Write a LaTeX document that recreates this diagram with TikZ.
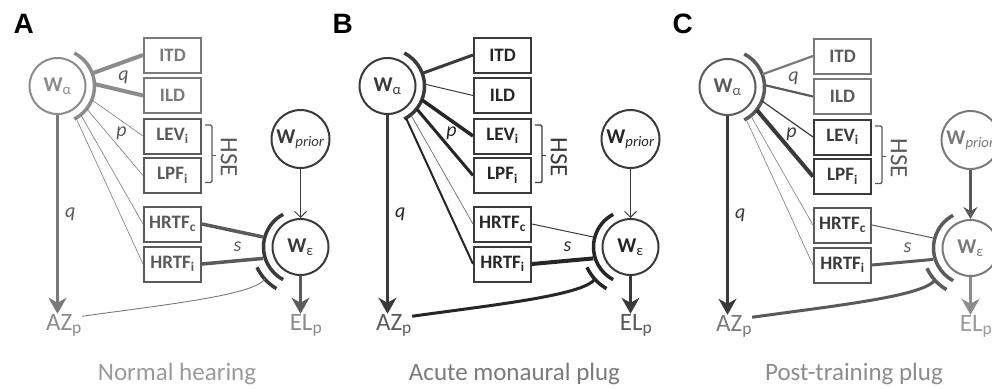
\documentclass[tikz,border=0pt]{standalone}
\usepackage{fontspec}
\setmainfont{Carlito}
\newfontfamily\panelfont{Liberation Sans}
\usepackage{tikz}
\usetikzlibrary{arrows.meta, calc}
\definecolor{faintgray}{HTML}{8C8C8C}
\definecolor{softgray}{HTML}{7A7A7A}
\definecolor{midgray}{HTML}{5A5A5A}
\definecolor{deepgray}{HTML}{3A3A3A}
\definecolor{inkgray}{HTML}{262626}
\definecolor{capgray}{HTML}{9A9A9A}
\tikzset{
  >={Stealth[length=16pt, width=18pt, inset=5pt]},
  every node/.style={font=\fontsize{20}{22}\selectfont},
  wnode/.style={
    circle, draw, line width=2pt, minimum size=56pt, inner sep=0pt,
    font=\fontsize{21}{22}\selectfont\bfseries
  },
  cuebox/.style={
    rectangle, draw, line width=2pt, minimum width=57pt, minimum height=35pt,
    inner sep=0pt, font=\fontsize{19}{20}\selectfont\bfseries
  },
  outlabel/.style={inner sep=0pt, anchor=base, font=\fontsize{25}{26}\selectfont},
  caption/.style={anchor=base, font=\fontsize{25}{26}\selectfont},
  weightlabel/.style={font=\fontsize{20}{22}\selectfont\itshape},
  gate/.style={line width=3.5pt},
  outarrow/.style={->, line width=2.5pt},
  priorarrow/.style={-{Straight Barb[length=6pt, width=12pt]}, line width=1pt},
  hsebrace/.style={line width=1.4pt, rounded corners=1.5pt},
  hselabel/.style={rotate=-90, font=\fontsize{25}{26}\selectfont},
  panellabel/.style={anchor=base west, font=\panelfont\fontsize{28}{30}\selectfont\bfseries}
}

\begin{document}
\begin{tikzpicture}[x=1pt, y=1pt]
\useasboundingbox (0,0) rectangle (992,-388);
\clip (0,0) rectangle (992,-388);

% ── A: normal hearing ────────────────────────────────────────────────────────
\node[panellabel] at (10,-33.3) {A};
\node[wnode, draw=faintgray, text=faintgray] (waA) at (57.5,-86) {W\textsubscript{\mdseries α}};
\node[cuebox, draw=softgray, text=softgray] (itdA) at (172.5,-55) {ITD};
\node[cuebox, draw=softgray, text=softgray] (ildA) at (172.5,-95.5) {ILD};
\node[cuebox, draw=midgray, text=midgray] (levA) at (172.5,-136) {LEV\textsubscript{i}};
\node[cuebox, draw=midgray, text=midgray] (lpfA) at (172.5,-175.5) {LPF\textsubscript{i}};
\node[cuebox, draw=midgray, text=midgray] (hrtfcA) at (172.5,-224) {HRTF\textsubscript{c}};
\node[cuebox, draw=midgray, text=midgray] (hrtfiA) at (172.5,-264) {HRTF\textsubscript{i}};
\node[wnode, minimum size=58pt, draw=deepgray, text=deepgray] (wpA) at (300.5,-139) {W\textsubscript{\mdseries\itshape prior}};
\node[wnode, draw=deepgray, text=deepgray] (weA) at (300.5,-247) {W\textsubscript{\mdseries ε}};
\node[outlabel, text=faintgray] (azA) at (64,-330) {AZ\textsubscript{p}};
\node[outlabel, text=faintgray] (elA) at (306,-330) {EL\textsubscript{p}};

\draw[gate, faintgray] (waA.center) ++(-63:37) arc[start angle=-63, end angle=63, radius=37];
\draw[faintgray, line width=4pt] (waA.center) ++(20:37) -- (itdA.west);
\draw[faintgray, line width=4pt] (waA.center) ++(3:37) -- (ildA.west);
\draw[softgray, line width=0.6pt] (waA.center) ++(-22:37) -- (levA.west);
\draw[softgray, line width=0.6pt] (waA.center) ++(-38:37) -- (lpfA.west);
\draw[softgray, line width=0.6pt] (waA.center) ++(-51:37) -- (hrtfcA.west);
\draw[softgray, line width=0.6pt] (waA.center) ++(-60:37) -- (hrtfiA.west);
\node[weightlabel, midgray] at ($(waA)+(66,9)$) {q};
\node[weightlabel, midgray] at ($(waA)+(64,-47)$) {p};

\draw[hsebrace, midgray] ([xshift=3pt, yshift=11pt]levA.east) -- ++(7,0) |- ([xshift=3pt, yshift=-7pt]lpfA.east);
\draw[hsebrace, midgray] ($(levA.east)!0.5!(lpfA.east)+(10,0)$) -- ++(4,0);
\node[hselabel, midgray] at ($(levA.east)!0.5!(lpfA.east)+(27,-1.5)$) {HSE};

\draw[gate, deepgray] (weA.center) ++(118:37) arc[start angle=118, end angle=242, radius=37];
\draw[gate, deepgray] (weA.center) ++(205:48) arc[start angle=205, end angle=240, radius=48];
\draw[midgray, line width=3.5pt] (hrtfcA.east) -- ($(weA)+(165:39)$);
\draw[midgray, line width=3.5pt] (hrtfiA.east) -- ($(weA)+(197:39)$);
\node[weightlabel, midgray] at ($(weA)+(-63,0)$) {s};

\draw[priorarrow, deepgray] (wpA.south) -- (weA.north);
\draw[outarrow, softgray] (waA.south) -- (waA.south |- azA.north)
  node[midway, right=3pt, weightlabel, midgray] {q};
\draw[outarrow, midgray] (weA.south) -- (weA.south |- elA.north);
\draw[softgray, line width=0.9pt] (weA.center) ++(222:48)
  .. controls +(235:20) and +(8:80) .. ([yshift=9pt]azA.east);
\node[caption, capgray] at (177,-380) {Normal hearing};

% ── B: acute monaural plug ───────────────────────────────────────────────────
\begin{scope}[shift={(330,0)}]
\node[panellabel] at (-1,-33.3) {B};
\node[wnode, draw=deepgray, text=deepgray] (waB) at (57.5,-86) {W\textsubscript{\mdseries α}};
\node[cuebox, draw=deepgray, text=inkgray] (itdB) at (172.5,-55) {ITD};
\node[cuebox, draw=deepgray, text=inkgray] (ildB) at (172.5,-95.5) {ILD};
\node[cuebox, draw=deepgray, text=inkgray] (levB) at (172.5,-136) {LEV\textsubscript{i}};
\node[cuebox, draw=deepgray, text=inkgray] (lpfB) at (172.5,-175.5) {LPF\textsubscript{i}};
\node[cuebox, draw=deepgray, text=inkgray] (hrtfcB) at (172.5,-224) {HRTF\textsubscript{c}};
\node[cuebox, draw=deepgray, text=inkgray] (hrtfiB) at (172.5,-264) {HRTF\textsubscript{i}};
\node[wnode, minimum size=58pt, draw=deepgray, text=inkgray] (wpB) at (300.5,-139) {W\textsubscript{\mdseries\itshape prior}};
\node[wnode, draw=deepgray, text=inkgray] (weB) at (300.5,-247) {W\textsubscript{\mdseries ε}};
\node[outlabel, text=midgray] (azB) at (64,-330) {AZ\textsubscript{p}};
\node[outlabel, text=midgray] (elB) at (306,-330) {EL\textsubscript{p}};
\end{scope}

\draw[gate, deepgray] (waB.center) ++(-63:37) arc[start angle=-63, end angle=63, radius=37];
\draw[deepgray, line width=3pt] (waB.center) ++(20:37) -- (itdB.west);
\draw[deepgray, line width=1pt] (waB.center) ++(3:37) -- (ildB.west);
\draw[inkgray, line width=3.5pt] (waB.center) ++(-22:37) -- (levB.west);
\draw[inkgray, line width=3pt] (waB.center) ++(-38:37) -- (lpfB.west);
\draw[midgray, line width=0.6pt] (waB.center) ++(-51:37) -- (hrtfcB.west);
\draw[inkgray, line width=2pt] (waB.center) ++(-60:37) -- (hrtfiB.west);
\node[weightlabel, inkgray] at ($(waB)+(64,-47)$) {p};

\draw[hsebrace, deepgray] ([xshift=3pt, yshift=11pt]levB.east) -- ++(7,0) |- ([xshift=3pt, yshift=-7pt]lpfB.east);
\draw[hsebrace, deepgray] ($(levB.east)!0.5!(lpfB.east)+(10,0)$) -- ++(4,0);
\node[hselabel, deepgray] at ($(levB.east)!0.5!(lpfB.east)+(27,-1.5)$) {HSE};

\draw[gate, inkgray] (weB.center) ++(118:37) arc[start angle=118, end angle=242, radius=37];
\draw[gate, inkgray] (weB.center) ++(205:48) arc[start angle=205, end angle=240, radius=48];
\draw[deepgray, line width=1pt] (hrtfcB.east) -- ($(weB)+(165:39)$);
\draw[inkgray, line width=4pt] (hrtfiB.east) -- ($(weB)+(197:39)$);
\node[weightlabel, inkgray] at ($(weB)+(-63,0)$) {s};

\draw[priorarrow, deepgray] (wpB.south) -- (weB.north);
\draw[outarrow, deepgray] (waB.south) -- (waB.south |- azB.north)
  node[midway, right=3pt, weightlabel, inkgray] {q};
\draw[outarrow, deepgray] (weB.south) -- (weB.south |- elB.north);
\draw[inkgray, line width=3pt] (weB.center) ++(222:48)
  .. controls +(235:20) and +(8:80) .. ([yshift=9pt]azB.east);
\node[caption, softgray] at (514.5,-380) {Acute monaural plug};

% ── C: post-training plug ────────────────────────────────────────────────────
\begin{scope}[shift={(670,-1)}]
\node[panellabel] at (-1,-32.3) {C};
\node[wnode, draw=midgray, text=midgray] (waC) at (57.5,-86) {W\textsubscript{\mdseries α}};
\node[cuebox, draw=softgray, text=midgray] (itdC) at (172.5,-55) {ITD};
\node[cuebox, draw=softgray, text=midgray] (ildC) at (172.5,-95.5) {ILD};
\node[cuebox, draw=deepgray, text=deepgray] (levC) at (172.5,-136) {LEV\textsubscript{i}};
\node[cuebox, draw=deepgray, text=deepgray] (lpfC) at (172.5,-175.5) {LPF\textsubscript{i}};
\node[cuebox, draw=midgray, text=deepgray] (hrtfcC) at (172.5,-224) {HRTF\textsubscript{c}};
\node[cuebox, draw=midgray, text=deepgray] (hrtfiC) at (172.5,-264) {HRTF\textsubscript{i}};
\node[wnode, minimum size=58pt, draw=softgray, text=softgray] (wpC) at (300.5,-139) {W\textsubscript{\mdseries\itshape prior}};
\node[wnode, draw=softgray, text=softgray] (weC) at (300.5,-247) {W\textsubscript{\mdseries ε}};
\node[outlabel, text=softgray] (azC) at (64,-330) {AZ\textsubscript{p}};
\node[outlabel, text=capgray] (elC) at (306,-330) {EL\textsubscript{p}};
\end{scope}

\draw[gate, midgray] (waC.center) ++(-63:37) arc[start angle=-63, end angle=63, radius=37];
\draw[softgray, line width=2.2pt] (waC.center) ++(20:37) -- (itdC.west);
\draw[midgray, line width=2.2pt] (waC.center) ++(3:37) -- (ildC.west);
\draw[deepgray, line width=1.2pt] (waC.center) ++(-22:37) -- (levC.west);
\draw[deepgray, line width=4pt] (waC.center) ++(-38:37) -- (lpfC.west);
\draw[softgray, line width=0.6pt] (waC.center) ++(-51:37) -- (hrtfcC.west);
\draw[softgray, line width=0.6pt] (waC.center) ++(-60:37) -- (hrtfiC.west);
\node[weightlabel, midgray] at ($(waC)+(66,9)$) {q};
\node[weightlabel, deepgray] at ($(waC)+(64,-47)$) {p};

\draw[hsebrace, midgray] ([xshift=3pt, yshift=11pt]levC.east) -- ++(7,0) |- ([xshift=3pt, yshift=-7pt]lpfC.east);
\draw[hsebrace, midgray] ($(levC.east)!0.5!(lpfC.east)+(10,0)$) -- ++(4,0);
\node[hselabel, midgray] at ($(levC.east)!0.5!(lpfC.east)+(27,-1.5)$) {HSE};

\draw[gate, midgray] (weC.center) ++(118:37) arc[start angle=118, end angle=242, radius=37];
\draw[gate, midgray] (weC.center) ++(205:48) arc[start angle=205, end angle=240, radius=48];
\draw[midgray, line width=1pt] (hrtfcC.east) -- ($(weC)+(165:39)$);
\draw[midgray, line width=3pt] (hrtfiC.east) -- ($(weC)+(197:39)$);
\node[weightlabel, midgray] at ($(weC)+(-63,0)$) {s};

\draw[outarrow, midgray, -{Stealth[length=12pt, width=14pt, inset=4pt]}] (wpC.south) -- (weC.north);
\draw[outarrow, deepgray] (waC.south) -- (waC.south |- azC.north)
  node[midway, right=3pt, weightlabel, deepgray] {q};
\draw[outarrow, faintgray] (weC.south) -- (weC.south |- elC.north);
\draw[midgray, line width=3pt] (weC.center) ++(222:48)
  .. controls +(235:20) and +(8:80) .. ([yshift=9pt]azC.east);
\node[caption, faintgray] at (854,-380) {Post-training plug};

\end{tikzpicture}
\end{document}
